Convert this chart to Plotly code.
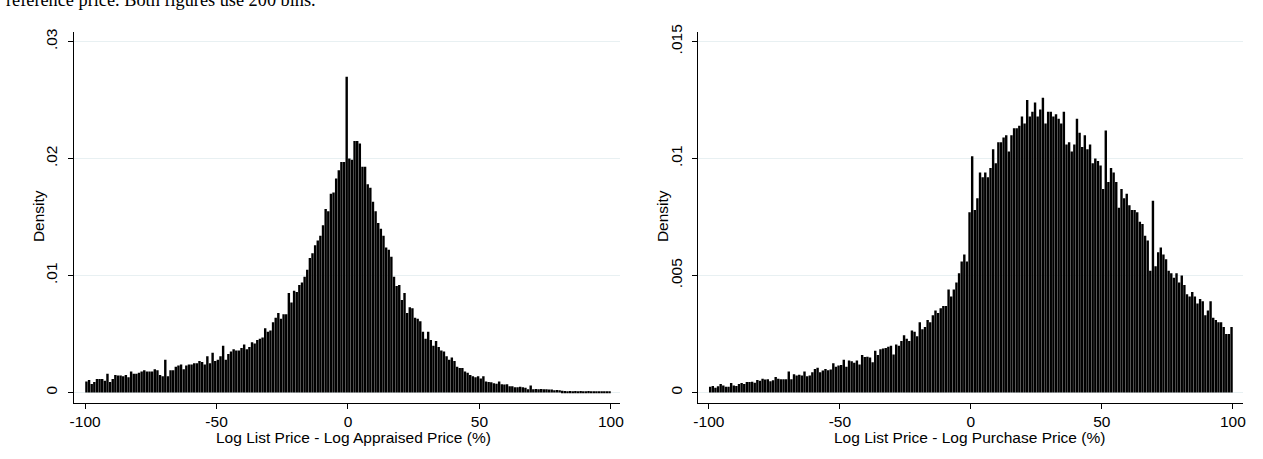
import numpy as np
import plotly.graph_objects as go

# Histogram settings: 200 bins of width 1 spanning -100 .. 100 (percent)
BIN_START = -100
BIN_WIDTH = 1
N_BINS = 200

# Density of log list price minus log appraised price, bin by bin
appraised_density = [
    0.00095, 0.00107, 0.00073, 0.0009, 0.00115, 0.00115, 0.00115, 0.001, 0.0016, 0.0009,
    0.00115, 0.0015, 0.00145, 0.00145, 0.0014, 0.0015, 0.0013, 0.0018, 0.0016, 0.0016,
    0.0017, 0.0018, 0.0019, 0.0018, 0.0018, 0.0018, 0.002, 0.0019, 0.0015, 0.0014,
    0.0028, 0.0014, 0.0019, 0.0019, 0.0022, 0.0023, 0.0024, 0.002, 0.0023, 0.0024,
    0.0024, 0.0025, 0.0025, 0.0027, 0.0026, 0.0024, 0.0031, 0.0025, 0.0034, 0.0027,
    0.0028, 0.0031, 0.004, 0.0028, 0.0033, 0.0035, 0.0037, 0.0036, 0.0036, 0.0038,
    0.0041, 0.0037, 0.0039, 0.0043, 0.0042, 0.0045, 0.0046, 0.0047, 0.0055, 0.0052,
    0.0053, 0.006, 0.0064, 0.0068, 0.0063, 0.0067, 0.0067, 0.0085, 0.0077, 0.0087,
    0.0086, 0.0092, 0.0094, 0.0099, 0.0105, 0.0115, 0.0119, 0.0126, 0.013, 0.0134,
    0.0143, 0.0157, 0.0155, 0.017, 0.0171, 0.0183, 0.019, 0.0197, 0.0197, 0.027,
    0.020, 0.0199, 0.0215, 0.0215, 0.0213, 0.0193, 0.0193, 0.0178, 0.0175, 0.0163,
    0.0155, 0.0145, 0.014, 0.0134, 0.0124, 0.0122, 0.0116, 0.0099, 0.0091, 0.0092,
    0.0079, 0.0085, 0.0068, 0.0073, 0.0072, 0.0064, 0.0063, 0.0061, 0.0052, 0.0046,
    0.0052, 0.0045, 0.004, 0.0044, 0.0039, 0.0036, 0.0035, 0.0031, 0.0028, 0.003,
    0.0027, 0.0022, 0.0021, 0.0021, 0.0018, 0.0017, 0.0015, 0.0014, 0.0013, 0.0014,
    0.0012, 0.0014, 0.00095, 0.0009, 0.00087, 0.0008, 0.00075, 0.00095, 0.0007, 0.00068,
    0.0007, 0.00053, 0.00053, 0.00045, 0.00045, 0.0005, 0.00045, 0.0004, 0.00027, 0.0006,
    0.00027, 0.0003, 0.00027, 0.0003, 0.00027, 0.00027, 0.00025, 0.00025, 0.0002, 0.00022,
    0.0002, 0.00015, 0.00012, 0.0001, 0.00012, 0.0001, 0.00012, 0.0001, 0.00012, 0.0001,
    0.0001, 0.00012, 0.0001, 0.00008, 0.00008, 0.00008, 0.00008, 0.00007, 0.00007, 0.00007,
]

# Density of log list price minus log purchase price, bin by bin
purchase_density = [
    0.00025, 0.00028, 0.0002, 0.00027, 0.00036, 0.0003, 0.00024, 0.00025, 0.0004, 0.0003,
    0.00028, 0.00036, 0.0004, 0.00036, 0.00045, 0.00045, 0.00046, 0.00042, 0.00053, 0.0005,
    0.00059, 0.00055, 0.00057, 0.00048, 0.00052, 0.00066, 0.00059, 0.00057, 0.00057, 0.00057,
    0.0009, 0.00057, 0.00078, 0.00073, 0.00076, 0.00073, 0.0009, 0.00069, 0.00073, 0.00087,
    0.001, 0.00106, 0.00087, 0.00094, 0.001, 0.00095, 0.00098, 0.00125, 0.0011, 0.00115,
    0.00118, 0.0014, 0.0011, 0.00137, 0.00134, 0.00127, 0.00137, 0.0012, 0.0016, 0.00152,
    0.00153, 0.0015, 0.00129, 0.00178, 0.0016, 0.00185, 0.00188, 0.0019, 0.00195, 0.002,
    0.00162, 0.00205, 0.002, 0.0022, 0.00245, 0.0023, 0.0022, 0.00265, 0.0026, 0.0024,
    0.003, 0.0027, 0.0028, 0.0031, 0.003, 0.0033, 0.0035, 0.0034, 0.0036, 0.0037,
    0.0037, 0.0044, 0.0041, 0.0044, 0.0047, 0.0051, 0.0056, 0.0059, 0.0056, 0.0077,
    0.0101, 0.0078, 0.0083, 0.0094, 0.0092, 0.0094, 0.0092, 0.0096, 0.0104, 0.0098,
    0.0107, 0.0107, 0.0109, 0.011, 0.0103, 0.011, 0.0113, 0.0113, 0.0114, 0.0118,
    0.0115, 0.0125, 0.0118, 0.012, 0.0124, 0.0118, 0.0121, 0.0126, 0.0115, 0.012,
    0.012, 0.0118, 0.0119, 0.0117, 0.0115, 0.012, 0.0106, 0.0107, 0.0103, 0.0106,
    0.0117, 0.0111, 0.0105, 0.011, 0.0104, 0.0106, 0.0098, 0.01, 0.0099, 0.0097,
    0.0087, 0.0112, 0.009, 0.0096, 0.0094, 0.009, 0.0079, 0.0087, 0.0083, 0.0085,
    0.008, 0.0078, 0.0078, 0.0077, 0.0073, 0.0072, 0.0067, 0.0065, 0.0052, 0.0082,
    0.0054, 0.006, 0.0062, 0.0059, 0.0057, 0.0052, 0.0051, 0.0049, 0.0051, 0.0047,
    0.005, 0.0046, 0.0042, 0.0041, 0.0043, 0.0041, 0.0038, 0.004, 0.0039, 0.0033,
    0.0035, 0.0039, 0.0032, 0.0031, 0.003, 0.003, 0.0028, 0.0025, 0.0025, 0.0028,
]

x_tickvals = [-100, -50, 0, 50, 100]
x_ticktext = ["-100", "-50", "0", "50", "100"]
left_ytickvals = [0, 0.01, 0.02, 0.03]
left_yticktext = ["0", ".01", ".02", ".03"]
right_ytickvals = [0, 0.005, 0.01, 0.015]
right_yticktext = ["0", ".005", ".01", ".015"]

left_xtitle = "Log List Price - Log Appraised Price (%)"
right_xtitle = "Log List Price - Log Purchase Price (%)"
y_title = "Density"
caption = "reference price. Both figures use 200 bins."

bin_centers = BIN_START + BIN_WIDTH * (np.arange(N_BINS) + 0.5)

W, H = 1263, 459
FONT = "Liberation Sans, Arial, sans-serif"
FS = 15.5
GRID = "#e8f0f2"

fig = go.Figure()
fig.add_trace(go.Bar(x=bin_centers, y=appraised_density, width=BIN_WIDTH * 0.92,
                     marker=dict(color="#000000", line=dict(width=0)),
                     xaxis="x", yaxis="y", showlegend=False))
fig.add_trace(go.Bar(x=bin_centers, y=purchase_density, width=BIN_WIDTH * 0.92,
                     marker=dict(color="#000000", line=dict(width=0)),
                     xaxis="x2", yaxis="y2", showlegend=False))


def xaxis_style(domain_px, rng, anchor):
    return dict(
        domain=[domain_px[0] / W, domain_px[1] / W], range=rng, anchor=anchor,
        tickmode="array", tickvals=x_tickvals, ticktext=x_ticktext,
        ticks="outside", ticklen=5, tickwidth=1, tickcolor="#000",
        showline=True, linecolor="#000", linewidth=1,
        showgrid=False, zeroline=False,
        tickfont=dict(family=FONT, size=FS, color="#000"),
    )


def yaxis_style(tickvals, ticktext, rng, anchor, domain_px):
    return dict(
        domain=[1 - domain_px[1] / H, 1 - domain_px[0] / H], range=rng, anchor=anchor,
        tickmode="array", tickvals=tickvals, ticktext=ticktext, tickangle=-90,
        ticks="outside", ticklen=5, tickwidth=1, tickcolor="#000",
        ticklabelstandoff=4,
        showline=True, linecolor="#000", linewidth=1,
        showgrid=True, gridcolor=GRID, gridwidth=1, zeroline=False,
        tickfont=dict(family=FONT, size=FS, color="#000"),
    )


def title_note(text, x_px, y_px, angle=0):
    return dict(text=text, xref="paper", yref="paper", x=x_px / W, y=1 - y_px / H,
                xanchor="center", yanchor="middle", textangle=angle, showarrow=False,
                font=dict(family=FONT, size=FS, color="#000"))


fig.update_layout(
    width=W, height=H,
    margin=dict(l=0, r=0, t=0, b=0),
    paper_bgcolor="white", plot_bgcolor="white",
    barmode="overlay",
    xaxis=xaxis_style((70, 620), [-104.4, 103.5], "y"),
    yaxis=yaxis_style(left_ytickvals, left_yticktext, [-0.00087, 0.0308], "x", (24.7, 401.7)),
    xaxis2=xaxis_style((698.3, 1246.7), [-104.2, 103.8], "y2"),
    yaxis2=yaxis_style(right_ytickvals, right_yticktext, [-0.000437, 0.0154], "x2", (24.7, 401.7)),
    annotations=[
        title_note(y_title, 35, 212, -90),
        title_note(y_title, 663, 212, -90),
        title_note(left_xtitle, 352, 437),
        title_note(right_xtitle, 972, 437),
        dict(text=caption, xref="paper", yref="paper", x=0, y=1,
             xanchor="left", yanchor="bottom", yshift=-4, showarrow=False,
             font=dict(family="Liberation Serif, Times New Roman, serif", size=18.3, color="#000")),
    ],
)

fig.write_html("out.html")
